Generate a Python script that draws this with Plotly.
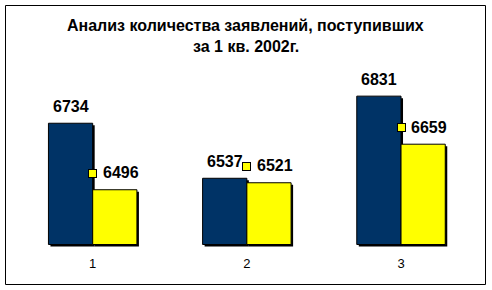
import plotly.graph_objects as go

categories = [1, 2, 3]
tick_labels = ["1", "2", "3"]
series_a = [6734, 6537, 6831]   # dark blue
series_b = [6496, 6521, 6659]   # yellow
base_value = 6300
title_line1 = "Анализ количества заявлений, поступивших"
title_line2 = "за 1 кв. 2002г."

W, H = 492, 290
FONT = "Arial, Liberation Sans, sans-serif"
NAVY = "#003366"
YELLOW = "#FFFF00"

# geometry
px_left, px_right = 15.6, 478.1
px_top, px_bottom = 60.0, 250.0
baseline_px = 244.5
units_per_px = 3.579
x_units_per_px = 3.0 / (px_right - px_left)
bw = 0.287
y_min = base_value - (px_bottom - baseline_px) * units_per_px
y_max = base_value + (baseline_px - px_top) * units_per_px

sdx = 2 * x_units_per_px
sdy = 2 * units_per_px

fig = go.Figure()

# shadows
fig.add_trace(go.Bar(x=categories, y=[v - base_value for v in series_a], base=base_value - sdy,
                     offset=-bw + sdx, width=bw, marker=dict(color="black", line=dict(width=0)),
                     hoverinfo="skip", showlegend=False))
fig.add_trace(go.Bar(x=categories, y=[v - base_value for v in series_b], base=base_value - sdy,
                     offset=sdx, width=bw, marker=dict(color="black", line=dict(width=0)),
                     hoverinfo="skip", showlegend=False))
# bars
fig.add_trace(go.Bar(x=categories, y=[v - base_value for v in series_a], base=base_value,
                     offset=-bw, width=bw, marker=dict(color=NAVY, line=dict(color="black", width=1)),
                     showlegend=False))
fig.add_trace(go.Bar(x=categories, y=[v - base_value for v in series_b], base=base_value,
                     offset=0, width=bw, marker=dict(color=YELLOW, line=dict(color="black", width=1)),
                     showlegend=False))

annotations = []
for c, v in zip(categories, series_a):
    annotations.append(dict(x=c - bw / 2, y=v, xref="x", yref="y", text="<b>%d</b>" % v,
                            showarrow=False, yshift=17, yanchor="middle", xanchor="center",
                            font=dict(family=FONT, size=16, color="black")))
for c, v in zip(categories, series_b):
    annotations.append(dict(x=c, y=v, xref="x", yref="y", text=" ", showarrow=False,
                            yshift=16.5, yanchor="middle", xanchor="center",
                            width=7, height=7, borderpad=0, borderwidth=1,
                            bordercolor="black", bgcolor=YELLOW, font=dict(size=4)))
    annotations.append(dict(x=c, y=v, xref="x", yref="y", text="<b>%d</b>" % v,
                            showarrow=False, yshift=17, xshift=8, yanchor="middle", xanchor="left",
                            font=dict(family=FONT, size=16, color="black")))
annotations.append(dict(x=245.5 / W, y=1 - 26 / H, xref="paper", yref="paper",
                        text="<b>%s</b>" % title_line1, showarrow=False,
                        xanchor="center", yanchor="middle",
                        font=dict(family=FONT, size=16, color="black")))
annotations.append(dict(x=245.5 / W, y=1 - 46.7 / H, xref="paper", yref="paper",
                        text="<b>%s</b>" % title_line2, showarrow=False,
                        xanchor="center", yanchor="middle",
                        font=dict(family=FONT, size=16, color="black")))

fig.update_layout(
    width=W, height=H,
    margin=dict(l=0, r=0, t=0, b=0),
    paper_bgcolor="white", plot_bgcolor="white",
    barmode="overlay",
    annotations=annotations,
    shapes=[dict(type="rect", xref="paper", yref="paper",
                 x0=5.5 / W, x1=485.5 / W, y0=1 - 284.5 / H, y1=1 - 5.5 / H,
                 line=dict(color="black", width=1))],
    xaxis=dict(domain=[px_left / W, px_right / W], range=[0.5, 3.5],
               tickmode="array", tickvals=categories, ticktext=tick_labels,
               showgrid=False, zeroline=False, showline=False, ticks="",
               tickfont=dict(family=FONT, size=13, color="black"),
               ticklabelstandoff=4),
    yaxis=dict(domain=[1 - px_bottom / H, 1 - px_top / H], range=[y_min, y_max],
               visible=False, showgrid=False, zeroline=False),
    font=dict(family=FONT),
)

fig.write_html("out.html")
